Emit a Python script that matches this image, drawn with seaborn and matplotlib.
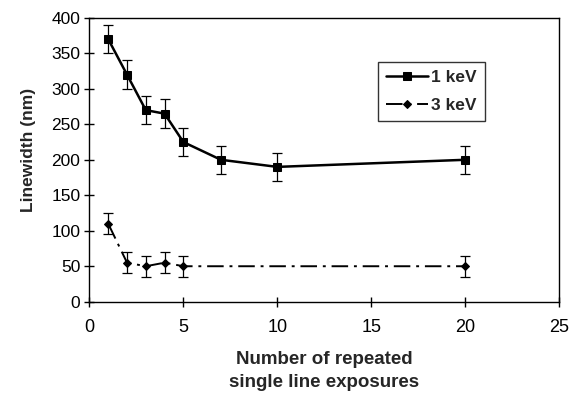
import numpy as np
import pandas as pd
import matplotlib
matplotlib.use("Agg")
import matplotlib.pyplot as plt
import seaborn as sns

# Données
expo_1kev = [1, 2, 3, 4, 5, 7, 10, 20]
largeur_1kev = [370, 320, 270, 265, 225, 200, 190, 200]
erreur_1kev = [20, 20, 20, 20, 20, 20, 20, 20]

expo_3kev = [1, 2, 3, 4, 5, 20]
largeur_3kev = [110, 55, 50, 55, 50, 50]
erreur_3kev = [15, 15, 15, 15, 15, 15]

x_ticks = [0, 5, 10, 15, 20, 25]
y_ticks = [0, 50, 100, 150, 200, 250, 300, 350, 400]

sns.set_style("white")
plt.rcParams['font.family'] = ['Liberation Sans', 'DejaVu Sans']

fig, ax = plt.subplots(figsize=(5.77, 3.97), dpi=100)

d1 = pd.DataFrame({'x': expo_1kev, 'y': largeur_1kev})
d3 = pd.DataFrame({'x': expo_3kev, 'y': largeur_3kev})

sns.lineplot(data=d1, x='x', y='y', ax=ax, color='black', linewidth=1.8,
             marker='s', markersize=6, markeredgecolor='black', label='1 keV')
sns.lineplot(data=d3, x='x', y='y', ax=ax, color='black', linewidth=1.4,
             linestyle=(0, (8.5, 3, 1.5, 3)), marker='D', markersize=4,
             markeredgecolor='black', label='3 keV')

# barres d'erreur
ax.errorbar(expo_1kev, largeur_1kev, yerr=erreur_1kev, fmt='none',
            ecolor='black', elinewidth=0.9, capsize=3.5, capthick=0.9)
ax.errorbar(expo_3kev, largeur_3kev, yerr=erreur_3kev, fmt='none',
            ecolor='black', elinewidth=0.9, capsize=3.5, capthick=0.9)

ax.set_xlim(0, 25)
ax.set_ylim(0, 400)
ax.set_xticks(x_ticks)
ax.set_yticks(y_ticks)
ax.tick_params(direction='inout', length=7, width=1, colors='black',
               left=True, bottom=True)
ax.tick_params(axis='x', labelsize=13, pad=9)
ax.tick_params(axis='y', labelsize=12.5, pad=3)
for s in ax.spines.values():
    s.set_color('black')
    s.set_linewidth(1)

ax.set_xlabel("Number of repeated\nsingle line exposures", fontsize=13.5,
              fontweight='bold', linespacing=1.4)
ax.set_ylabel("Linewidth (nm)", fontsize=12.5, fontweight='bold')
ax.xaxis.set_label_coords(0.5, -0.175)
ax.yaxis.set_label_coords(-0.113, 0.534)

leg = ax.legend(loc='upper left', bbox_to_anchor=(0.615, 0.845),
                borderaxespad=0, frameon=True, fancybox=False,
                edgecolor='black', prop={'weight': 'bold', 'size': 12.5},
                handlelength=2.4, borderpad=0.45, labelspacing=0.75,
                handletextpad=0.2)
leg.get_frame().set_linewidth(1)

fig.subplots_adjust(left=0.155, right=0.969, top=0.955, bottom=0.24)
fig.savefig("out.png", dpi=100)
